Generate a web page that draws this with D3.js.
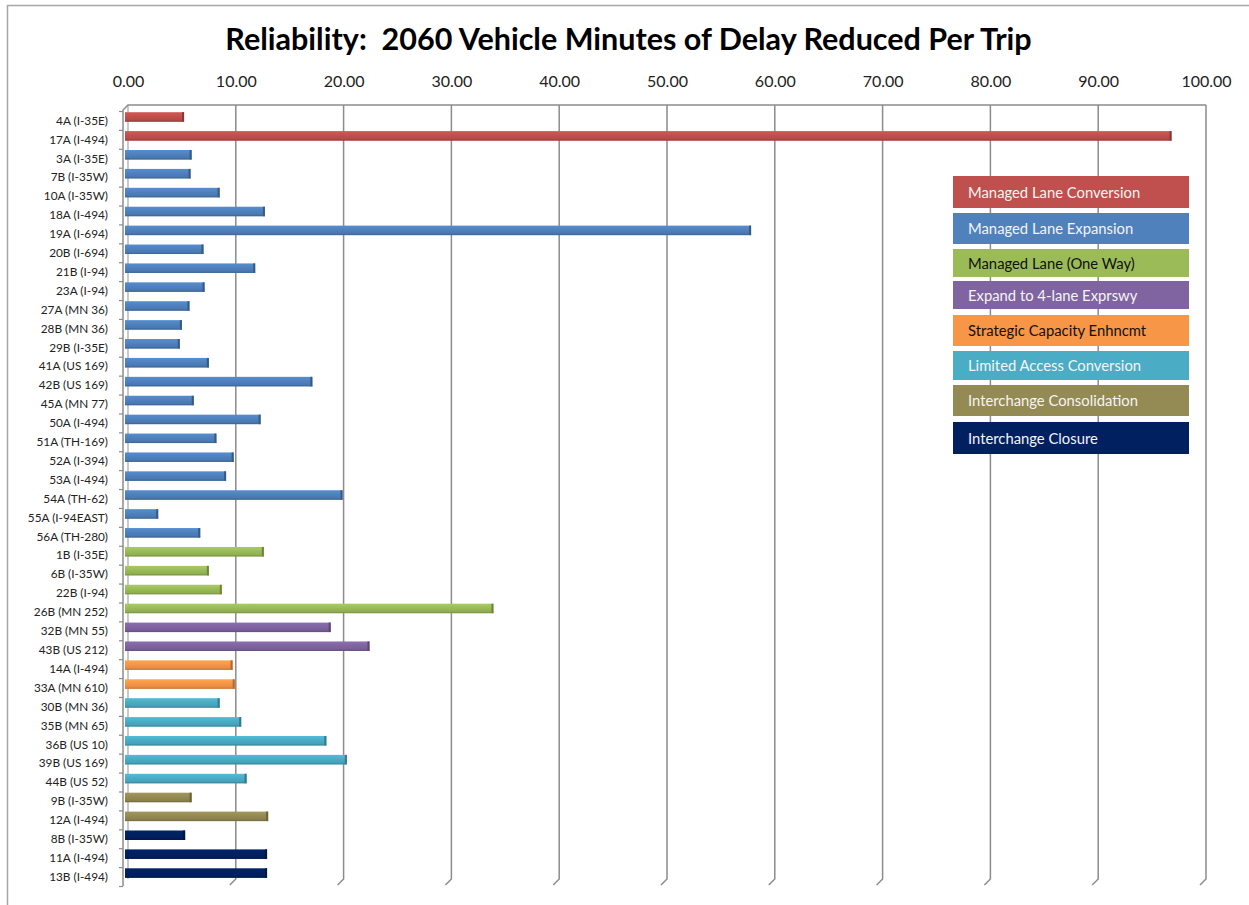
<!DOCTYPE html>
<html>
<head>
<meta charset="utf-8">
<script src="https://d3js.org/d3.v7.min.js"></script>
<style>
html,body{margin:0;padding:0;background:#fff;}
svg{display:block;}
text{font-family:Lato,"Open Sans",sans-serif;}
</style>
</head>
<body>
<svg id="chart" width="1249" height="905"></svg>
<script>
const titleText = "Reliability:  2060 Vehicle Minutes of Delay Reduced Per Trip";
const categories = ["4A (I-35E)","17A (I-494)","3A (I-35E)","7B (I-35W)","10A (I-35W)","18A (I-494)","19A (I-694)","20B (I-694)","21B (I-94)","23A (I-94)","27A (MN 36)","28B (MN 36)","29B (I-35E)","41A (US 169)","42B (US 169)","45A (MN 77)","50A (I-494)","51A (TH-169)","52A (I-394)","53A (I-494)","54A (TH-62)","55A (I-94EAST)","56A (TH-280)","1B (I-35E)","6B (I-35W)","22B (I-94)","26B (MN 252)","32B (MN 55)","43B (US 212)","14A (I-494)","33A (MN 610)","30B (MN 36)","35B (MN 65)","36B (US 10)","39B (US 169)","44B (US 52)","9B (I-35W)","12A (I-494)","8B (I-35W)","11A (I-494)","13B (I-494)"];
const values = [5.2,96.8,5.9,5.8,8.5,12.7,57.8,7.0,11.8,7.1,5.7,5.0,4.8,7.5,17.1,6.1,12.3,8.2,9.8,9.1,19.9,2.8,6.7,12.6,7.5,8.7,33.9,18.8,22.4,9.7,9.9,8.5,10.5,18.4,20.3,11.0,5.9,13.0,5.3,12.9,12.9];
const groups = [0,0,1,1,1,1,1,1,1,1,1,1,1,1,1,1,1,1,1,1,1,1,1,2,2,2,2,3,3,4,4,5,5,5,5,5,6,6,7,7,7];
const seriesNames = ["Managed Lane Conversion","Managed Lane Expansion","Managed Lane (One Way)","Expand to 4-lane Exprswy","Strategic Capacity Enhncmt","Limited Access Conversion","Interchange Consolidation","Interchange Closure"];
const seriesColors = ["#C0504D","#4F81BD","#9BBB59","#8064A2","#F79646","#4BACC6","#948A54","#002060"];
const seriesTextColors = ["#f4f4f4","#f4f4f4","#111","#f4f4f4","#111","#f4f4f4","#f4f4f4","#f4f4f4"];
const xTicks = [0,10,20,30,40,50,60,70,80,90,100];

const svg = d3.select("#chart");
const x = d3.scaleLinear().domain([0,100]).range([128,1206]);
const y = d3.scaleBand().domain(categories).range([111.5,886.5]);
const barH = 9.5, barShift = -4;
const gridTop = 105, gridBot = 879;

// outer border
svg.append("path").attr("d","M7.5,910 L7.5,5.5 L1260,5.5").attr("fill","none").attr("stroke","#a6a6a6").attr("stroke-width",1.5);

// title
const title = svg.append("text").attr("x",628.5).attr("y",50).attr("text-anchor","middle")
  .attr("font-weight","bold").attr("font-size",30).attr("fill","#000")
  .attr("xml:space","preserve").style("white-space","pre").text(titleText);
const tw = title.node().getComputedTextLength();
title.attr("font-size", 30*807/tw);

// gradient defs for bars
const defs = svg.append("defs");
seriesColors.forEach((c,i)=>{
  const g = defs.append("linearGradient").attr("id","g"+i).attr("x1",0).attr("y1",0).attr("x2",0).attr("y2",1);
  const col = d3.color(c);
  g.append("stop").attr("offset","0%").attr("stop-color",col.brighter(0.25));
  g.append("stop").attr("offset","45%").attr("stop-color",c);
  g.append("stop").attr("offset","100%").attr("stop-color",col.darker(0.3));
});

// gridlines
const grid = svg.append("g");
xTicks.forEach(t=>{
  if(t===0) return;
  const gx = x(t);
  grid.append("path").attr("d",`M${gx},${gridTop} L${gx},${gridBot} L${gx-6},${gridBot+6}`)
    .attr("fill","none").attr("stroke","#8c8c8c").attr("stroke-width",1.5);
});
grid.append("path").attr("d",`M${x(0)},${gridTop} L${x(0)},${gridBot}`).attr("fill","none").attr("stroke","#a6a6a6").attr("stroke-width",1.2);
grid.append("path").attr("d",`M123,886 L123,110 L${x(0)},${gridTop} L${x(100)},${gridTop}`)
  .attr("fill","none").attr("stroke","#8c8c8c").attr("stroke-width",1.5);

// top axis labels
const xAxis = d3.axisTop(x).tickValues(xTicks).tickFormat(d3.format(".2f")).tickSize(0).tickPadding(0);
const xg = svg.append("g").attr("transform","translate(0,87)").call(xAxis);
xg.select(".domain").remove();
xg.selectAll("text").attr("font-size",16).attr("fill","#222").attr("dy",0).style("font-family","Lato,sans-serif");

// y axis labels and ticks
const yAxis = d3.axisLeft(y).tickSize(0).tickPadding(0);
const yg = svg.append("g").attr("transform","translate(108,0)").call(yAxis);
yg.select(".domain").remove();
yg.selectAll("text").attr("font-size",11.8).attr("fill","#222").style("font-family","Lato,sans-serif");
const bounds = categories.map(c=>y(c)).concat([y.range()[1]]);
svg.append("g").selectAll("path").data(bounds).join("path")
  .attr("d",d=>`M119,${d} L123,${d}`).attr("stroke","#8c8c8c").attr("stroke-width",1.2);

// bars
const bars = svg.append("g");
categories.forEach((c,i)=>{
  const g = groups[i];
  const by = y(c) + y.bandwidth()/2 - barH/2 + barShift;
  const x0 = x(0) - 3, x1 = x(values[i]);
  bars.append("rect").attr("x",x0).attr("y",by).attr("width",x1-x0).attr("height",barH)
    .attr("fill",`url(#g${g})`);
  bars.append("rect").attr("x",x1-2).attr("y",by).attr("width",2).attr("height",barH)
    .attr("fill",d3.color(seriesColors[g]).darker(1));
  bars.append("rect").attr("x",x0).attr("y",by+barH-1.2).attr("width",x1-x0).attr("height",1.2)
    .attr("fill",d3.color(seriesColors[g]).darker(0.7)).attr("opacity",0.7);
});

// legend
const lg = svg.append("g");
const legTops = [176,213,249,281,315,351,385,422];
const legBots = [208,244,277,309,346,380,416,454];
seriesNames.forEach((n,i)=>{
  lg.append("rect").attr("x",953).attr("y",legTops[i]).attr("width",236).attr("height",legBots[i]-legTops[i])
    .attr("fill",seriesColors[i]);
  lg.append("text").attr("x",968).attr("y",(legTops[i]+legBots[i])/2+5.5).attr("font-size",14.8)
    .attr("fill",seriesTextColors[i]).text(n);
});
</script>
</body>
</html>
